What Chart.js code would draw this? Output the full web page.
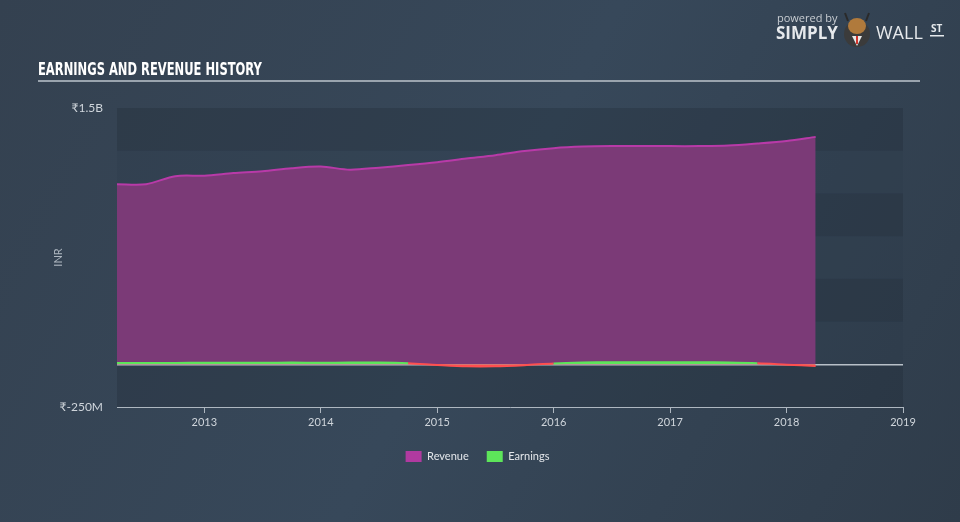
<!DOCTYPE html>
<html>
<head>
<meta charset="utf-8">
<script src="https://cdn.jsdelivr.net/npm/chart.js@4/dist/chart.umd.min.js"></script>
<style>
  html, body { margin: 0; padding: 0; background: #323f4d; }
  #wrap { width: 960px; height: 522px; position: relative; }
</style>
</head>
<body>
<div id="wrap"><canvas id="chart" width="960" height="522"></canvas></div>
<script>
// quarter ends (year-month)
var periods = ['2012-03','2012-06','2012-09','2012-12','2013-03','2013-06','2013-09','2013-12',
               '2014-03','2014-06','2014-09','2014-12','2015-03','2015-06','2015-09','2015-12',
               '2016-03','2016-06','2016-09','2016-12','2017-03','2017-06','2017-09','2017-12','2018-03'];
// INR, billions / millions
var revenueB = [1.054, 1.054, 1.101, 1.104, 1.119, 1.130, 1.148, 1.157, 1.139, 1.151, 1.166, 1.183,
                1.204, 1.224, 1.248, 1.265, 1.274, 1.277, 1.277, 1.277, 1.277, 1.280, 1.292, 1.307, 1.331];
var earningsM = [8, 8, 8, 9, 9, 9, 10, 9, 10, 10, 6, -4, -12, -12, -5, 5, 10, 12, 12, 12, 12, 10, 6, -2, -10];
var yTicks = [-250e6, 0, 1.5e9];
var yearTicks = [2013, 2014, 2015, 2016, 2017, 2018, 2019];

function toYear(p) {
  var parts = p.split('-');
  return +parts[0] + (+parts[1]) / 12;
}

var revenuePts = periods.map(function(p, i) { return { x: toYear(p), y: revenueB[i] * 1e9 }; });
var earningsPts = periods.map(function(p, i) { return { x: toYear(p), y: earningsM[i] * 1e6 }; });

function money(v) {
  if (v === 0) return '';
  if (Math.abs(v) >= 1e9) return '₹' + (v / 1e9) + 'B';
  return '₹' + (v / 1e6) + 'M';
}

var backdrop = {
  id: 'backdrop',
  beforeDraw: function(chart) {
    var ctx = chart.ctx;
    var g = ctx.createLinearGradient(0, 0, 960, 522);
    g.addColorStop(0, '#344150');
    g.addColorStop(0.5, '#37485a');
    g.addColorStop(1, '#2f3c4a');
    ctx.save();
    ctx.fillStyle = g;
    ctx.fillRect(0, 0, chart.width, chart.height);

    // stripes every 250M
    var a = chart.chartArea, y = chart.scales.y;
    for (var v = -250e6, k = 0; v < 1.5e9; v += 250e6, k++) {
      var top = y.getPixelForValue(v + 250e6), bot = y.getPixelForValue(v);
      ctx.fillStyle = (k % 2 === 0) ? 'rgba(28,40,52,0.28)' : 'rgba(40,54,68,0.2)';
      ctx.fillRect(a.left, top, a.right - a.left, bot - top);
    }

    // title
    ctx.fillStyle = '#ffffff';
    ctx.font = 'bold 16px "DejaVu Sans Condensed", "Liberation Sans Narrow", sans-serif';
    ctx.textBaseline = 'alphabetic';
    ctx.save();
    ctx.translate(38, 75);
    ctx.scale(0.8, 1.1);
    ctx.fillText('EARNINGS AND REVENUE HISTORY', 0, 0);
    ctx.restore();
    ctx.fillStyle = '#9aa4ae';
    ctx.fillRect(38, 80, 882, 2);

    // logo
    ctx.fillStyle = '#c8cdd2';
    ctx.font = '11px "Open Sans", sans-serif';
    ctx.fillText('powered by', 777, 22);
    ctx.fillStyle = '#e6e9ec';
    ctx.font = 'bold 17px "Open Sans", sans-serif';
    ctx.fillText('SIMPLY', 776, 39);
    ctx.font = '18px "Open Sans", sans-serif';
    ctx.fillText('WALL', 876, 39);
    ctx.font = 'bold 10px "Open Sans", sans-serif';
    ctx.fillText('ST', 931, 32);
    ctx.fillRect(930, 35, 14, 1.5);
    // bull badge
    ctx.fillStyle = '#3b3b3b';
    ctx.beginPath(); ctx.arc(857, 34, 13, 0, Math.PI * 2); ctx.fill();
    ctx.fillStyle = '#b07a3c';
    ctx.beginPath(); ctx.ellipse(857, 26, 9, 8, 0, 0, Math.PI * 2); ctx.fill();
    ctx.fillStyle = '#e8e8e8';
    ctx.beginPath(); ctx.moveTo(852, 36); ctx.lineTo(862, 36); ctx.lineTo(857, 46); ctx.fill();
    ctx.fillStyle = '#d0342c';
    ctx.fillRect(856, 36, 2, 8);
    ctx.strokeStyle = '#2a2a2a'; ctx.lineWidth = 2;
    ctx.beginPath(); ctx.moveTo(848, 21); ctx.lineTo(845, 13); ctx.moveTo(866, 21); ctx.lineTo(869, 13); ctx.stroke();
    ctx.restore();
  }
};

var ctx = document.getElementById('chart').getContext('2d');
var chart = new Chart(ctx, {
  type: 'line',
  data: {
    datasets: [{
      label: 'Revenue',
      data: revenuePts,
      borderColor: '#b83aa8',
      backgroundColor: '#7b3a77',
      borderWidth: 2,
      fill: 'origin',
      pointRadius: 0,
      tension: 0.3,
      order: 2
    }, {
      label: 'Earnings',
      data: earningsPts,
      borderColor: '#5de55a',
      backgroundColor: '#5de55a',
      borderWidth: 2,
      fill: { target: 'origin', above: '#5de55a', below: '#ff4f4f' },
      pointRadius: 0,
      tension: 0.3,
      segment: {
        borderColor: function(c) { return (c.p0.parsed.y < 0 || c.p1.parsed.y < 0) ? '#ff4f4f' : '#5de55a'; }
      },
      order: 1
    }]
  },
  options: {
    responsive: false,
    animation: false,
    layout: { padding: { left: 52, right: 57, top: 108, bottom: 50 } },
    plugins: {
      tooltip: { enabled: false },
      legend: {
        position: 'bottom',
        labels: {
          color: '#e3e6ea',
          font: { family: 'Lato, "Open Sans", sans-serif', size: 11 },
          boxWidth: 16, boxHeight: 11, padding: 18,
          generateLabels: function(chart) {
            var cols = ['#b03aa0', '#5de55a'];
            return chart.data.datasets.map(function(d, i) {
              return { text: d.label, fillStyle: cols[i], strokeStyle: cols[i], lineWidth: 0, datasetIndex: i, fontColor: '#e3e6ea' };
            });
          }
        }
      }
    },
    scales: {
      x: {
        type: 'linear',
        min: toYear(periods[0]),
        max: 2019,
        afterBuildTicks: function(s) { s.ticks = yearTicks.map(function(v) { return { value: v }; }); },
        afterFit: function(s) { s.height = 26; },
        ticks: {
          color: '#cfd5db',
          font: { family: 'Lato, "Open Sans", sans-serif', size: 11 },
          padding: 3,
          maxRotation: 0,
          callback: function(v) { return String(v); }
        },
        grid: { drawOnChartArea: false, drawTicks: true, tickLength: 6, color: '#aeb7c0', lineWidth: 1 },
        border: { display: true, color: '#aeb7c0', width: 1 }
      },
      y: {
        min: -250e6,
        max: 1.5e9,
        afterBuildTicks: function(s) { s.ticks = yTicks.map(function(v) { return { value: v }; }); },
        afterFit: function(s) { s.width = 117 - 52; },
        title: { display: true, text: 'INR', color: '#aeb7c0', font: { family: 'Lato, sans-serif', size: 11 }, padding: 0 },
        ticks: {
          color: '#cfd5db',
          font: { family: 'Lato, "Open Sans", sans-serif', size: 12 },
          padding: 14,
          callback: function(v) { return money(v); }
        },
        grid: {
          drawTicks: false,
          color: function(c) { return c.tick && c.tick.value === 0 ? '#b8c0c8' : 'rgba(0,0,0,0)'; },
          lineWidth: 1.5
        },
        border: { display: false }
      }
    }
  },
  plugins: [backdrop]
});
</script>
</body>
</html>
